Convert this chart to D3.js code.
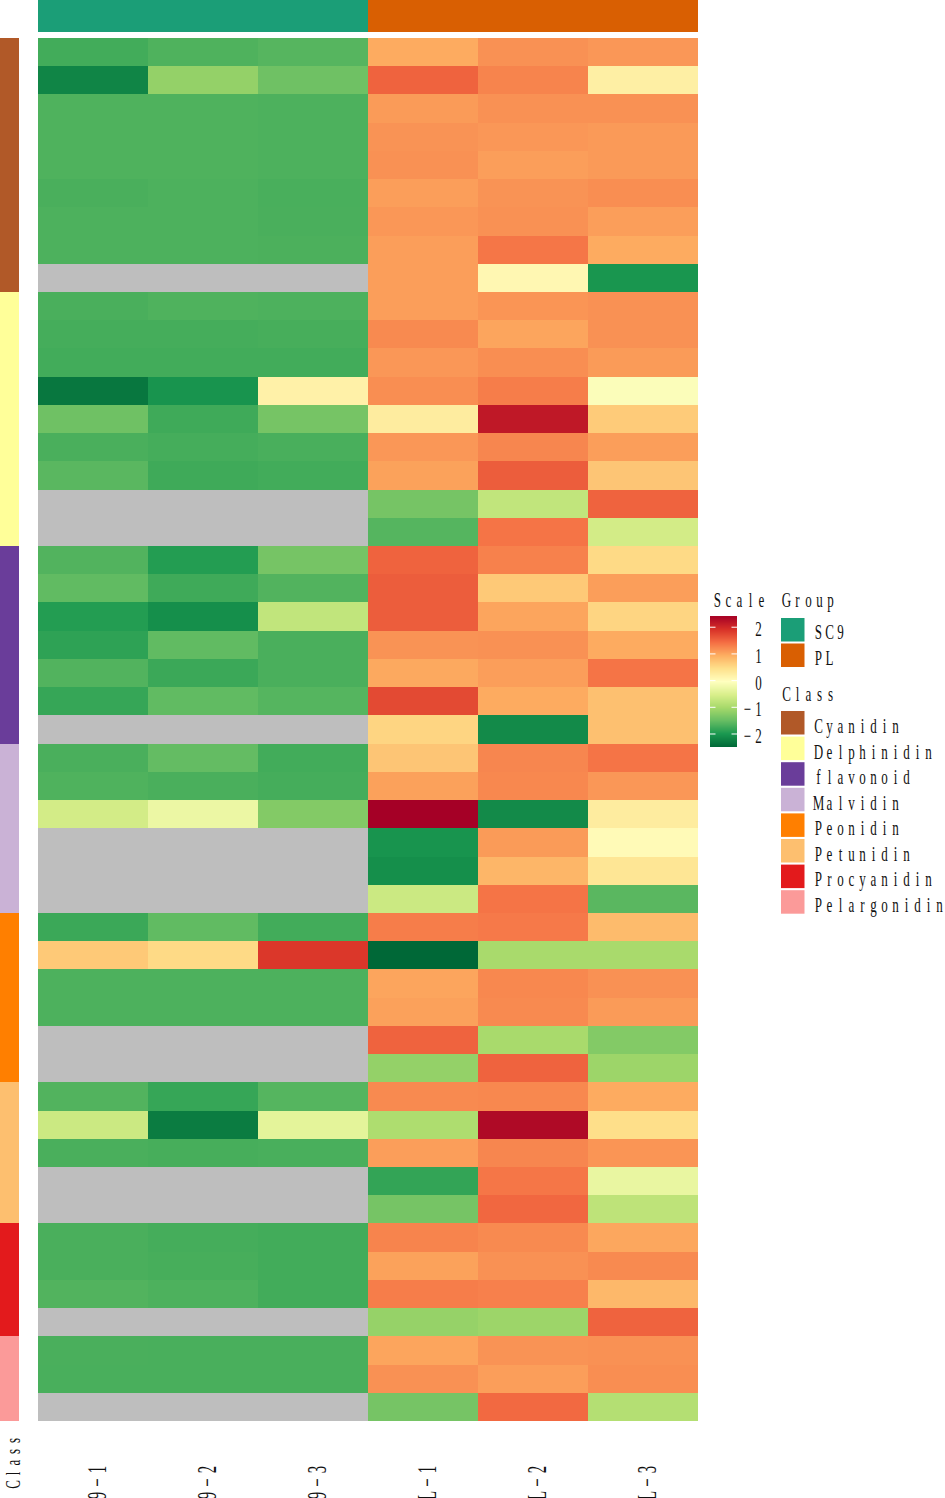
<!DOCTYPE html>
<html>
<head>
<meta charset="utf-8">
<script src="https://cdn.jsdelivr.net/npm/d3@7"></script>
<style>
html, body { margin: 0; padding: 0; background: #fff; overflow: hidden; }
svg { display: block; }
text { font-family: "Liberation Serif", serif; fill: #111; }
</style>
</head>
<body>
<svg id="chart"></svg>
<script>
// sample names and annotation categories
const samples = ["SC9−1", "SC9−2", "SC9−3", "PL−1", "PL−2", "PL−3"];
const sampleGroup = ["SC9", "SC9", "SC9", "PL", "PL", "PL"];
const groupNames = ["SC9", "PL"];
const groupColors = ["#1b9e77", "#d95f02"];
const classNames = ["Cyanidin", "Delphinidin", "flavonoid", "Malvidin", "Peonidin", "Petunidin", "Procyanidin", "Pelargonidin"];
const classColors = ["#b15928", "#ffff99", "#6a3d9a", "#cab2d6", "#ff7f00", "#fdbf6f", "#e31a1c", "#fb9a99"];
const scaleTicks = [2, 1, 0, -1, -2];

// rows of each class, one value per sample, null = no value (grey)
const cyanidin = [
  [-1.70, -1.62, -1.57, 1.00, 1.20, 1.15],
  [-2.15, -1.12, -1.40, 1.55, 1.30, 0.25],
  [-1.62, -1.62, -1.63, 1.12, 1.20, 1.20],
  [-1.62, -1.62, -1.63, 1.18, 1.15, 1.13],
  [-1.62, -1.62, -1.63, 1.20, 1.10, 1.13],
  [-1.65, -1.63, -1.66, 1.10, 1.18, 1.22],
  [-1.63, -1.63, -1.65, 1.15, 1.20, 1.10],
  [-1.63, -1.63, -1.64, 1.10, 1.40, 1.00],
  [null, null, null, 1.10, 0.12, -1.98]
];
const delphinidin = [
  [-1.65, -1.62, -1.63, 1.10, 1.17, 1.20],
  [-1.68, -1.68, -1.67, 1.25, 1.05, 1.20],
  [-1.70, -1.70, -1.70, 1.15, 1.22, 1.12],
  [-2.30, -2.00, 0.22, 1.22, 1.35, -0.05],
  [-1.40, -1.72, -1.35, 0.30, 2.20, 0.70],
  [-1.65, -1.68, -1.66, 1.15, 1.28, 1.10],
  [-1.55, -1.72, -1.70, 1.07, 1.60, 0.75],
  [null, null, null, -1.35, -0.72, 1.55],
  [null, null, null, -1.58, 1.42, -0.55]
];
const flavonoid = [
  [-1.60, -1.90, -1.35, 1.55, 1.32, 0.55],
  [-1.50, -1.72, -1.60, 1.60, 0.72, 1.10],
  [-1.90, -2.05, -0.72, 1.60, 1.05, 0.60],
  [-1.83, -1.50, -1.65, 1.18, 1.20, 1.00],
  [-1.60, -1.75, -1.65, 1.02, 1.10, 1.42],
  [-1.78, -1.50, -1.58, 1.75, 1.00, 0.80],
  [null, null, null, 0.60, -2.10, 0.80]
];
const malvidin = [
  [-1.65, -1.48, -1.70, 0.75, 1.28, 1.42],
  [-1.62, -1.65, -1.68, 1.08, 1.27, 1.15],
  [-0.55, -0.25, -1.25, 2.45, -2.10, 0.30],
  [null, null, null, -2.00, 1.12, 0.08],
  [null, null, null, -2.05, 0.90, 0.40],
  [null, null, null, -0.62, 1.42, -1.55]
];
const peonidin = [
  [-1.75, -1.50, -1.70, 1.35, 1.38, 0.85],
  [0.72, 0.55, 1.90, -2.45, -0.95, -0.95],
  [-1.63, -1.63, -1.63, 1.05, 1.27, 1.20],
  [-1.63, -1.63, -1.63, 1.08, 1.25, 1.12],
  [null, null, null, 1.55, -0.95, -1.25],
  [null, null, null, -1.12, 1.55, -1.05]
];
const petunidin = [
  [-1.60, -1.78, -1.58, 1.25, 1.27, 1.00],
  [-0.62, -2.25, -0.35, -0.90, 2.35, 0.50],
  [-1.65, -1.67, -1.66, 1.10, 1.28, 1.17],
  [null, null, null, -1.80, 1.40, -0.28],
  [null, null, null, -1.35, 1.52, -0.75]
];
const procyanidin = [
  [-1.65, -1.68, -1.70, 1.30, 1.25, 1.03],
  [-1.65, -1.67, -1.70, 1.07, 1.20, 1.25],
  [-1.60, -1.63, -1.70, 1.35, 1.33, 0.88],
  [null, null, null, -1.10, -1.05, 1.55]
];
const pelargonidin = [
  [-1.65, -1.66, -1.66, 1.05, 1.18, 1.20],
  [-1.66, -1.66, -1.66, 1.20, 1.10, 1.22],
  [null, null, null, -1.35, 1.50, -0.85]
];
const classRows = [cyanidin, delphinidin, flavonoid, malvidin, peonidin, petunidin, procyanidin, pelargonidin];

const width = 945, height = 1498;
const rows = classRows.flatMap((list, c) => list.map(vals => ({ vals, cls: classNames[c] })));

const svg = d3.select("#chart").attr("width", width).attr("height", height);

const x = d3.scaleBand().domain(d3.range(samples.length)).range([38, 698]);
const y = d3.scaleBand().domain(d3.range(rows.length)).range([38, 1421]);

// reversed RdYlGn ramp, same as the heatmap's legend
const ramp = ["#006837", "#1a9850", "#66bd63", "#a6d96a", "#d9ef8b", "#ffffbf", "#fee08b", "#fdae61", "#f46d43", "#d73027", "#a50026"];
const color = d3.scaleLinear()
    .domain(d3.range(ramp.length).map(i => -2.45 + i * 0.49))
    .range(ramp)
    .clamp(true);

const groupColor = d3.scaleOrdinal().domain(groupNames).range(groupColors);
const classColor = d3.scaleOrdinal().domain(classNames).range(classColors);

// spaced out narrow lettering: each glyph is centred in its own fixed width cell
function spaced(parent, str, px, py, opts = {}) {
    const pitch = opts.pitch || 11, size = opts.size || 21, sx = opts.sx || 0.62;
    const rot = opts.rot ? " rotate(-90)" : "";
    const chars = Array.from(str);
    const total = pitch * chars.length;
    // anchor end means the last glyph cell finishes at px
    const start = opts.end ? -total : 0;
    const xs = chars.map((c, i) => (start + pitch * (i + 0.5)) / sx);
    return parent.append("text")
        .attr("transform", `translate(${px},${py})${rot} scale(${sx},1)`)
        .attr("x", xs.join(" "))
        .attr("text-anchor", "middle")
        .style("font-size", size + "px")
        .text(str);
}

// heatmap cells
svg.append("g").attr("shape-rendering", "crispEdges")
    .selectAll("g")
    .data(rows)
    .join("g")
    .attr("transform", (d, i) => `translate(0,${y(i)})`)
    .selectAll("rect")
    .data(d => d.vals)
    .join("rect")
    .attr("x", (d, i) => x(i))
    .attr("width", x.bandwidth())
    .attr("height", y.bandwidth())
    .attr("fill", d => d === null ? "#bebebe" : color(d));

// group annotation bar on top
svg.append("g").attr("shape-rendering", "crispEdges")
    .selectAll("rect")
    .data(sampleGroup)
    .join("rect")
    .attr("x", (d, i) => x(i))
    .attr("y", 0)
    .attr("width", x.bandwidth())
    .attr("height", 32)
    .attr("fill", d => groupColor(d));

// class annotation bar on the left
svg.append("g").attr("shape-rendering", "crispEdges")
    .selectAll("rect")
    .data(rows)
    .join("rect")
    .attr("x", 0)
    .attr("y", (d, i) => y(i))
    .attr("width", 19)
    .attr("height", y.bandwidth())
    .attr("fill", d => classColor(d.cls));

// bottom labels, they run off the page like in the original
samples.forEach((s, i) => {
    spaced(svg, s, x(i) + x.bandwidth() / 2 + 13, 1435 + 14, { end: false, rot: true, pitch: 13, size: 27, sx: 0.55 })
        .attr("x", Array.from(s).map((c, k) => (-14 - 13 * (Array.from(s).length - k - 0.5)) / 0.55).join(" "));
});
spaced(svg, "Class", 20, 1435, { end: true, rot: true, pitch: 11, size: 21, sx: 0.62 });

// colour scale
const legendY = d3.scaleLinear().domain([-2.45, 2.42]).range([746, 616]);
const legend = svg.append("g");
legend.append("g").attr("shape-rendering", "crispEdges")
    .selectAll("rect")
    .data(d3.range(746, 616, -1))
    .join("rect")
    .attr("x", 710)
    .attr("y", d => d - 1)
    .attr("width", 27)
    .attr("height", 1.5)
    .attr("fill", d => color(legendY.invert(d - 0.5)));
spaced(legend, "Scale", 712, 607);

const tickRows = legend.selectAll("g.tick")
    .data(scaleTicks)
    .join("g")
    .attr("class", "tick");
tickRows.append("rect").attr("x", 710).attr("y", d => legendY(d) - 0.5).attr("width", 5.5).attr("height", 1).attr("fill", "#fff");
tickRows.append("rect").attr("x", 731.5).attr("y", d => legendY(d) - 0.5).attr("width", 5.5).attr("height", 1).attr("fill", "#fff");
tickRows.each(function(d) {
    const label = d < 0 ? "−" + Math.abs(d) : String(d);
    spaced(d3.select(this), label, 764, legendY(d) + 9, { end: true, pitch: 11 });
});

// group and class legends
spaced(legend, "Group", 781, 607);
groupNames.forEach((g, i) => {
    legend.append("rect").attr("x", 781).attr("y", 618 + i * 25.5).attr("width", 23.5).attr("height", 23.5).attr("fill", groupColor(g));
    spaced(legend, g, 813, 639 + i * 25.8);
});
spaced(legend, "Class", 781, 701);
classNames.forEach((c, i) => {
    legend.append("rect").attr("x", 781).attr("y", 711 + i * 25.6).attr("width", 23.5).attr("height", 23.5).attr("fill", classColor(c));
    spaced(legend, c, 813, 733 + i * 25.5);
});
</script>
</body>
</html>
